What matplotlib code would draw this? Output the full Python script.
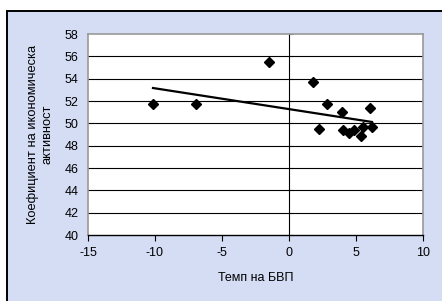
import numpy as np
import matplotlib.pyplot as plt
from matplotlib.patches import Rectangle

plt.rcParams['font.family'] = ['Liberation Sans', 'DejaVu Sans']
plt.rcParams['axes.unicode_minus'] = False

# GDP growth vs economic activity rate
gdp = [-10.15, -6.94, -1.47, 1.82, 2.24, 2.86, 3.98, 4.05, 4.50, 4.88, 5.37, 5.55, 6.07, 6.19]
activity = [51.75, 51.75, 55.45, 53.7, 49.5, 51.75, 51.0, 49.4, 49.15, 49.4, 48.85, 49.7, 51.35, 49.7]
xticks = [-15, -10, -5, 0, 5, 10]
yticks = list(range(40, 59, 2))

fig = plt.figure(figsize=(4.42, 3.01), dpi=100)
fig.patch.set_facecolor('white')
top = (301 - 10.5) / 301
bg = Rectangle((7 / 442, -0.1), 1.2, top + 0.1, transform=fig.transFigure,
               facecolor='#D5DDF5', edgecolor='black', lw=1.4, zorder=-5)
fig.add_artist(bg)

ax = fig.add_axes([88 / 442, 66 / 301, 335 / 442, 201 / 301])
ax.set_facecolor('white')
ax.set_xlim(-15, 10)
ax.set_ylim(40, 58)

for y in yticks[1:-1]:
    ax.axhline(y, color='black', lw=0.8, zorder=1)

# trend line
k, b = np.polyfit(gdp, activity, 1)
xs = np.array([min(gdp), max(gdp)])
ax.plot(xs, k * xs + b, color='black', lw=1.6, zorder=3)

ax.plot(gdp, activity, 'D', color='black', ms=5, zorder=4)

for s in ['left', 'right', 'top']:
    ax.spines[s].set_color('#999999')
    ax.spines[s].set_linewidth(1.2)
ax.spines['bottom'].set_color('black')
ax.spines['bottom'].set_linewidth(1.0)

ax.set_xticks(xticks)
ax.set_yticks(yticks)
ax.tick_params(axis='x', direction='out', length=4, width=0.8, labelsize=9, pad=5)
ax.tick_params(axis='y', length=0, labelsize=9, pad=7)

# vertical axis crossing at x = 0
sec = ax.secondary_yaxis(15 / 25)
sec.spines['left'].set_color('#808080')
sec.spines['left'].set_linewidth(1.2)
sec.set_yticks(yticks)
sec.set_yticklabels([])
sec.tick_params(direction='out', length=3, width=0.8, color='#808080')

ax.set_xlabel('Темп на БВП', fontsize=9, labelpad=9)
ax.set_ylabel('Коефициент на икономическа\nактивност', fontsize=9.3, labelpad=8, linespacing=1.2)

fig.savefig('out.png', dpi=100)
